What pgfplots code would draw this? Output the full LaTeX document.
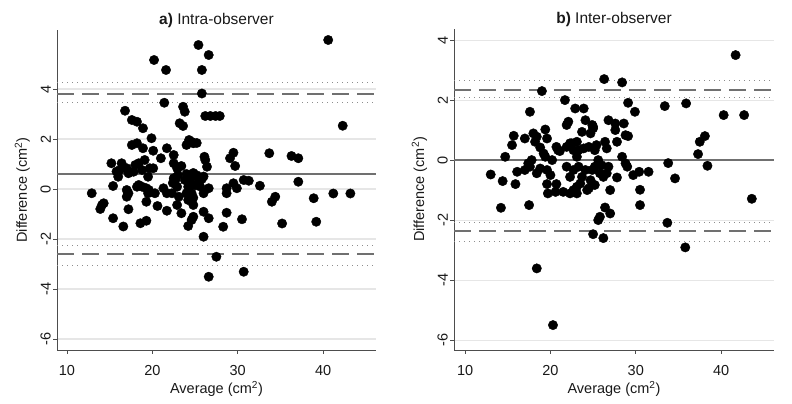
\documentclass[border=0pt]{standalone}
\usepackage{fontspec}
\setmainfont{Liberation Sans}
\usepackage{pgfplots}
\pgfplotsset{compat=1.18}
\definecolor{axgray}{HTML}{4D4D4D}
\definecolor{gridgray}{HTML}{E6E6E6}
\definecolor{refgray}{HTML}{707070}
\pgfplotsset{
  stbase/.style={
    scale only axis,
    anchor=south west,
    axis x line*=bottom,
    axis y line*=left,
    axis line style={axgray, line width=0.9pt},
    tick style={axgray, line width=0.9pt},
    tick align=outside,
    major tick length=4pt,
    xtick={10,20,30,40},
    xticklabels={10,20,30,40},
    ytick={-6,-4,-2,0,2,4},
    yticklabels={-6,-4,-2,0,2,4},
    ymajorgrids,
    major grid style={gridgray, line width=1.1pt},
    ticklabel style={font=\fontsize{14.5}{16}\selectfont, text=black!90},
    yticklabel style={rotate=90, anchor=south, inner sep=2pt},
    xticklabel style={inner sep=3pt, yshift=-8pt},
    label style={font=\fontsize{14.5}{16}\selectfont, text=black!90},
    title style={font=\fontsize{15.5}{17}\selectfont, text=black!90, yshift=-7pt},
    xlabel={Average (cm\textsuperscript{2})},
    ylabel={Difference (cm\textsuperscript{2})},
    xlabel style={yshift=1pt},
    ylabel style={yshift=5pt},
    clip=false,
  },
  dots/.style={only marks, mark=*, mark size=4.7pt, mark options={fill=black, draw=none}},
  meanl/.style={refgray, line width=1.6pt, no marks},
  dashl/.style={refgray, line width=1.6pt, dash pattern=on 17pt off 8pt, no marks},
  dotl/.style={refgray!80, line width=0.9pt, dash pattern=on 1pt off 4pt, no marks},
}
\begin{document}
\begin{tikzpicture}
\path[use as bounding box] (0,0) rectangle (792pt,404pt);
% ---------- Panel a ----------
\begin{axis}[stbase,
  at={(57pt,54pt)}, width=319pt, height=320pt,
  xmin=8.83, xmax=46.2, ymin=-6.44, ymax=6.36,
  title={\textbf{a)} Intra-observer},
]
\addplot[dotl] coordinates {(8.83,4.25) (46.2,4.25)};
\addplot[dotl] coordinates {(8.83,3.47) (46.2,3.47)};
\addplot[dashl] coordinates {(8.83,3.79) (46.2,3.79)};
\addplot[meanl] coordinates {(8.83,0.6) (46.2,0.6)};
\addplot[dotl] coordinates {(8.83,-2.27) (46.2,-2.27)};
\addplot[dotl] coordinates {(8.83,-3.04) (46.2,-3.04)};
\addplot[dashl] coordinates {(8.83,-2.6) (46.2,-2.6)};
\addplot[dots] coordinates {
(25.4,5.76) (26.6,5.36) (20.2,5.16) (21.6,4.76) (25.8,4.76) (25.8,3.82) (40.6,5.96)
(21.4,3.45) (23.6,3.29) (23.8,3.09) (16.8,3.13)
(26.2,2.92) (26.8,2.92) (27.4,2.92) (27.9,2.92)
(17.6,2.76) (18.2,2.69) (23.2,2.63) (23.6,2.52) (18.9,2.43) (42.3,2.53)
(19.9,2.03) (17.6,1.76) (18.2,1.83) (18.9,1.63) (20.1,1.53) (21.7,1.63)
(24.0,1.76) (24.6,1.89) (24.3,1.96) (24.8,1.83) (25.2,1.84)
(21.0,1.23) (22.5,1.36) (22.5,1.03) (23.4,0.92)
(26.1,1.29) (26.2,1.16) (26.4,0.89)
(29.5,1.45) (29.1,1.23) (29.7,0.92) (33.7,1.43) (36.3,1.32) (37.1,1.23)
(15.2,1.03) (16.4,1.03) (16.2,0.76) (16.0,0.49) (17.0,0.83) (17.2,0.63)
(18.0,0.96) (18.4,1.03) (18.8,0.76) (19.1,1.16) (20.1,0.83) (19.5,0.49)
(15.8,0.7) (17.8,0.69) (19.7,0.83) (22.9,0.83)
(24.0,0.6) (24.6,0.5) (25.2,0.55) (25.8,0.4) (25.4,0.3) (26.0,0.5)
(24.4,0.3) (25.0,0.15) (25.6,0.1) (24.8,0.64)
(23.0,0.56) (22.7,0.36) (22.4,0.24) (22.5,0.43) (23.8,0.36) (22.9,0.09) (24.2,0.09)
(15.4,0.12) (12.9,-0.17) (14.1,-0.64) (13.9,-0.8) (14.3,-0.57)
(17.0,-0.04) (17.0,-0.31) (17.2,-0.17)
(18.2,0.09) (18.8,0.09) (19.3,0.03) (19.5,-0.17) (20.3,-0.17) (19.3,-0.51)
(21.3,0.03) (19.6,-0.04) (18.4,0.16)
(21.7,-0.17) (22.3,-0.17) (23.1,-0.31) (22.9,-0.64) (23.4,-0.97) (24.0,-0.17)
(24.6,-0.17) (24.2,-0.44) (24.8,-0.64) (24.2,-1.48) (24.8,-1.11)
(26.6,0.03) (26.0,-0.17) (24.8,-0.35)
(37.1,0.29) (30.7,0.36) (31.3,0.33) (29.5,0.23) (29.9,0.03) (28.7,0.03) (28.7,-0.17)
(32.6,0.13) (34.4,-0.31) (34.0,-0.51) (38.9,-0.37) (41.2,-0.18) (43.2,-0.18)
(26.0,-0.91) (26.6,-1.17) (28.7,-0.95) (30.5,-1.21) (28.3,-1.51) (35.2,-1.38)
(39.2,-1.31) (24.6,-1.24) (26.0,-1.91) (27.5,-2.71) (30.7,-3.31) (26.6,-3.51)
(17.2,-0.81) (15.4,-1.17) (16.6,-1.5) (18.6,-1.37) (19.3,-1.27) (20.6,-0.68) (21.7,-0.87)
};
\end{axis}
% ---------- Panel b ----------
\begin{axis}[stbase,
  at={(454pt,54pt)}, width=320pt, height=321pt,
  xmin=8.7, xmax=46.2, ymin=-6.33, ymax=4.37,
  title={\textbf{b)} Inter-observer},
]
\addplot[dotl] coordinates {(8.7,2.66) (46.2,2.66)};
\addplot[dotl] coordinates {(8.7,2.08) (46.2,2.08)};
\addplot[dashl] coordinates {(8.7,2.33) (46.2,2.33)};
\addplot[meanl] coordinates {(8.7,0) (46.2,0)};
\addplot[dotl] coordinates {(8.7,-2.09) (46.2,-2.09)};
\addplot[dotl] coordinates {(8.7,-2.7) (46.2,-2.7)};
\addplot[dashl] coordinates {(8.7,-2.36) (46.2,-2.36)};
\addplot[dots] coordinates {
(26.3,2.7) (19.0,2.3) (21.7,2.0) (17.6,1.61) (22.9,1.72) (23.9,1.72)
(22.1,1.28) (21.9,1.17) (24.1,1.33) (25.0,1.11) (26.8,1.33)
(15.7,0.81) (15.5,0.5) (17.0,0.72) (18.0,0.89) (18.4,0.78) (19.4,1.02) (19.6,0.72) (18.2,0.61)
(14.7,0.11) (13.0,-0.48) (14.4,-0.7) (15.9,-0.8)
(16.1,-0.39) (17.0,-0.33) (17.4,-0.11) (17.8,0.0) (17.6,-0.22)
(18.4,-0.44) (18.8,-0.28) (19.6,-0.33) (20.0,-0.5)
(19.2,0.22) (18.8,0.42) (19.4,0.11) (20.2,0.0) (20.9,0.33) (20.7,0.44) (21.1,0.3)
(19.6,-0.8) (19.7,-1.11) (20.7,-0.8) (20.6,-1.06)
(21.5,-1.06) (22.3,-1.11) (22.7,-1.0)
(14.2,-1.59) (17.5,-1.5)
(21.9,-0.22) (22.7,-0.33) (22.3,-0.56) (22.7,0.33) (22.3,0.56) (23.1,0.11) (21.9,0.44) (22.5,0.56)
(28.4,2.59) (29.1,1.91) (29.9,1.61) (33.4,1.8) (35.9,1.89)
(24.9,1.17) (25.0,1.06) (24.7,0.89)
(27.6,1.22) (28.6,1.22) (27.6,1.0) (28.8,0.83) (29.1,0.8) (27.8,0.61) (23.7,0.94)
(26.4,0.61) (26.6,0.39) (25.2,0.33) (25.4,0.5)
(23.1,0.61) (23.3,0.33) (23.9,0.39) (24.5,0.44)
(28.4,0.11) (28.8,-0.11) (29.0,-0.22)
(25.6,0.0) (26.0,-0.17) (25.2,-0.22) (26.8,-0.22) (26.6,-0.44) (25.8,-0.44)
(24.9,-0.33) (24.7,-0.67) (26.2,-0.56) (24.1,-0.33) (23.7,-0.56) (23.3,-0.22)
(29.7,-0.5) (30.4,-0.39) (31.5,-0.39) (33.8,-0.1) (34.6,-0.61) (27.8,-0.58)
(25.2,-0.83) (24.5,-0.94) (23.1,-0.89) (23.1,-1.11) (23.5,-0.78) (24.3,-1.0)
(27.0,-1.0) (30.5,-0.99) (30.5,-1.5)
(26.4,-1.58) (27.0,-1.78) (25.6,-2.0) (25.8,-1.89)
(33.7,-2.09) (25.0,-2.47) (26.2,-2.6)
(41.7,3.5) (40.3,1.5) (42.7,1.5) (38.1,0.8) (37.5,0.61) (37.3,0.2) (38.4,-0.19)
(43.6,-1.29) (35.8,-2.91) (18.4,-3.61) (20.3,-5.5)
};
\end{axis}
\end{tikzpicture}
\end{document}
